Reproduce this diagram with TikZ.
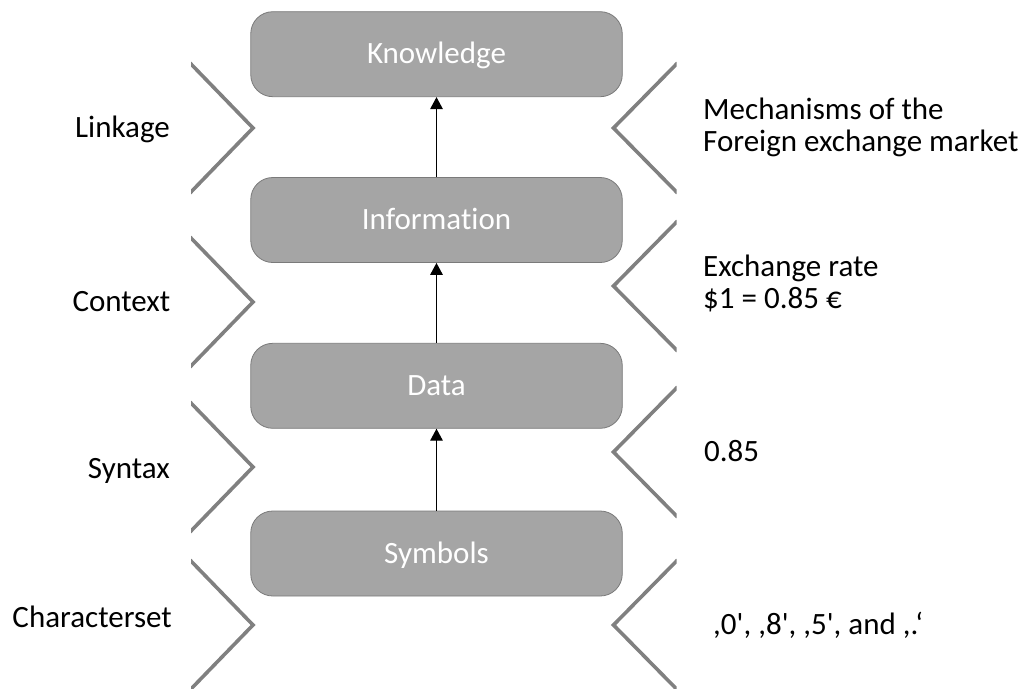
\documentclass[tikz,border=0pt]{standalone}
\usepackage{fontspec}
\setmainfont{Carlito}[Ligatures={TeX,NoCommon}]
\usetikzlibrary{arrows.meta}
\definecolor{boxfill}{HTML}{A5A5A5}
\definecolor{boxline}{HTML}{7A7A7A}
\definecolor{chev}{HTML}{808080}
\tikzset{
  level/.style={draw=boxline, line width=0.8pt, fill=boxfill, rounded corners=22pt,
    minimum width=371.5pt, minimum height=85pt, inner sep=0pt,
    text height=19.5pt, text depth=0pt,
    text=white, font=\fontsize{31}{33}\selectfont},
  chevron/.style={draw=chev, line width=3.6pt, line join=miter},
  lbl/.style={font=\fontsize{31}{33}\selectfont, inner sep=0pt, text=black},
  rlbl/.style={font=\fontsize{31}{31.7}\selectfont, inner sep=0pt, text=black, align=left},
  up/.style={draw=black, line width=1.4pt, -{Triangle[length=12pt,width=12.5pt]}}
}
\begin{document}
\begin{tikzpicture}[x=1pt,y=-1pt]
\useasboundingbox (0,0) rectangle (1027,688);
% levels
\node[level] (kn) at (436.5,54.2) {Knowledge};
\node[level] (in) at (436.5,220) {Information};
\node[level] (da) at (436.5,385.8) {Data};
\node[level] (sy) at (436.5,553.5) {Symbols};
% arrows
\draw[up] (sy.north) -- (da.south);
\draw[up] (da.north) -- (in.south);
\draw[up] (in.north) -- (kn.south);
% left chevrons
\begin{scope}
\clip (191,0) rectangle (270,688);
\draw[chevron] (190,63) -- (253,128) -- (190,193);
\draw[chevron] (190,237) -- (253,302) -- (190,367);
\draw[chevron] (190,402) -- (253,467) -- (190,532);
\draw[chevron] (190,560) -- (253,625) -- (190,690);
\end{scope}
% right chevrons
\begin{scope}
\clip (600,0) rectangle (676.5,688);
\draw[chevron] (677.5,63) -- (613.5,128) -- (677.5,193);
\draw[chevron] (677.5,221) -- (613.5,286) -- (677.5,351);
\draw[chevron] (677.5,387) -- (613.5,452) -- (677.5,517);
\draw[chevron] (677.5,560) -- (613.5,625) -- (677.5,690);
\end{scope}
% left labels
\node[lbl, anchor=base east] (l1) at (170,137.3) {Linkage};
\node[lbl, anchor=base east] (l2) at (170.5,311) {Context};
\node[lbl, anchor=base east] (l3) at (170,478.3) {Syntax};
\node[lbl, anchor=base east] (l4) at (172,627.3) {Characterset};
% right labels
\node[rlbl, anchor=base west] (r1) at (703,151) {Mechanisms of the\\Foreign exchange market};
\node[rlbl, anchor=base west] (r2) at (703,308.5) {Exchange rate\\\$1 = 0.85 €};
\node[rlbl, anchor=base west] (r3) at (704,461.7) {0.85};
\node[rlbl, anchor=base west] (r4) at (713,634.3) {,0\textquotesingle, ,8\textquotesingle, ,5\textquotesingle, and ,.‘};
\end{tikzpicture}
\end{document}
